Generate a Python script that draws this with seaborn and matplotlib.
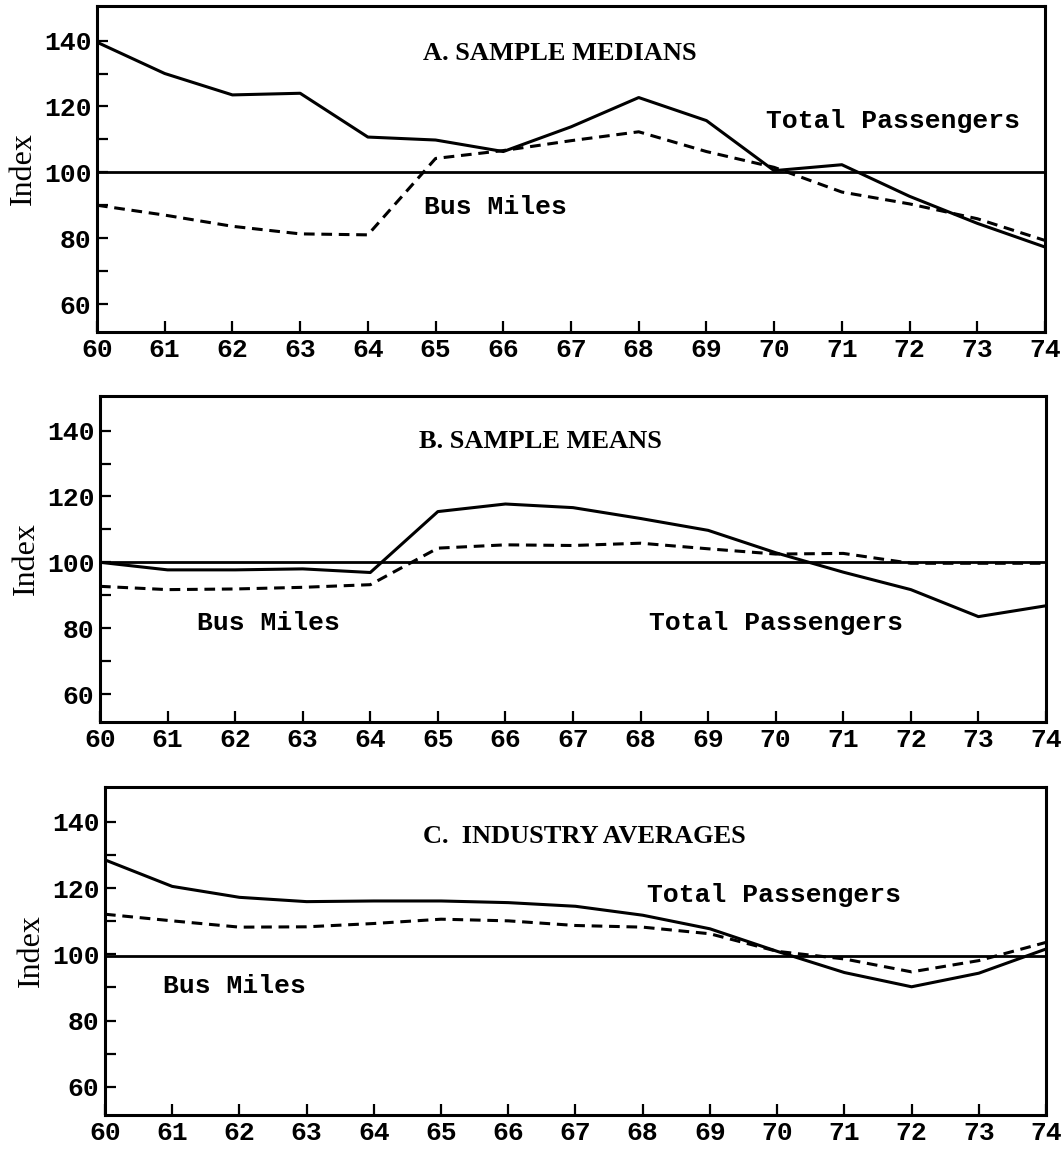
import matplotlib
matplotlib.use("Agg")
import matplotlib.pyplot as plt
import seaborn as sns

# years on the x axis (19xx)
years = list(range(60, 75))

# A. sample medians
a_passengers = [139.5, 130.0, 123.5, 124.0, 110.7, 109.8, 106.3, 113.8, 122.7, 115.7, 100.5, 102.3, 92.7, 84.5, 77.3]
a_busmiles = [90.0, 87.0, 83.6, 81.3, 81.0, 104.2, 106.6, 109.6, 112.3, 106.3, 101.5, 94.0, 90.4, 85.9, 79.3]

# B. sample means
b_passengers = [100.0, 97.7, 97.7, 98.0, 96.9, 115.4, 117.7, 116.6, 113.3, 109.7, 102.9, 97.0, 91.7, 83.5, 86.8]
b_busmiles = [92.7, 91.7, 91.9, 92.4, 93.2, 104.3, 105.3, 105.1, 105.8, 104.1, 102.5, 102.7, 99.7, 99.7, 99.7]

# C. industry averages
c_passengers = [128.5, 120.5, 117.2, 115.9, 116.1, 116.1, 115.6, 114.5, 111.8, 107.7, 100.9, 94.5, 90.2, 94.3, 101.6]
c_busmiles = [112.1, 110.1, 108.2, 108.3, 109.3, 110.6, 110.1, 108.7, 108.2, 106.2, 100.9, 98.6, 94.7, 98.1, 103.6]

base_lines = [100.0, 100.0, 99.5]
titles = ["A. SAMPLE MEDIANS", "B. SAMPLE MEANS", "C.  INDUSTRY AVERAGES"]
major_y = [60, 80, 100, 120, 140]
minor_y = [70, 90, 110, 130]

# label positions (data coords) per panel: title, passengers, bus miles
title_pos = [(66.84, 136.0), (66.52, 136.7), (67.13, 135.7)]
pass_pos = [(71.75, 115.5), (70.0, 81.7), (69.95, 118.0)]
bus_pos = [(65.88, 89.4), (62.49, 81.5), (61.92, 90.3)]

sns.set_style("white")
plt.rcParams['font.family'] = ['Liberation Mono', 'DejaVu Sans']
plt.rcParams['text.color'] = 'black'
plt.rcParams['axes.labelcolor'] = 'black'

W, H = 1063, 1149
fig = plt.figure(figsize=(W / 100, H / 100), dpi=100)

# panel boxes in pixels: left, top, right, bottom
boxes = [(97, 6, 1045, 332), (100, 396, 1046, 722), (105, 787, 1046, 1115)]

series = [(a_passengers, a_busmiles), (b_passengers, b_busmiles), (c_passengers, c_busmiles)]

for i, (l, t, r, b) in enumerate(boxes):
    ax = fig.add_axes([l / W, 1 - b / H, (r - l) / W, (b - t) / H])
    pas, bus = series[i]

    # solid = total passengers, dashed = bus miles
    sns.lineplot(x=years, y=pas, ax=ax, color='black', lw=2.2)
    sns.lineplot(x=years, y=bus, ax=ax, color='black', lw=2.2, linestyle=(0, (3.5, 2.2)))
    ax.axhline(base_lines[i], color='black', lw=2.0)

    ax.set_xlim(60, 74)
    ax.set_ylim(51.5, 150.5)
    ax.set_xticks(years)
    ax.set_xticklabels([str(y) for y in years])
    ax.set_yticks(major_y)
    ax.set_yticks(minor_y, minor=True)
    ax.tick_params(which='both', direction='in', length=8, width=1.6,
                   bottom=True, left=True, top=False, right=False,
                   labelsize=19, pad=4, colors='black')
    for lab in ax.get_xticklabels() + ax.get_yticklabels():
        lab.set_fontweight('bold')

    for sp in ax.spines.values():
        sp.set_visible(True)
        sp.set_linewidth(2.2)
        sp.set_color('black')

    ax.set_ylabel("Index", fontsize=23, labelpad=4,
                  family=['Liberation Serif', 'DejaVu Serif'])
    ax.set_xlabel("")

    ax.text(*title_pos[i], titles[i], ha='center', va='center', fontsize=19,
            fontweight='bold', family=['Liberation Serif', 'DejaVu Serif'])
    ax.text(*pass_pos[i], "Total Passengers", ha='center', va='center',
            fontsize=19, fontweight='bold')
    ax.text(*bus_pos[i], "Bus Miles", ha='center', va='center',
            fontsize=19, fontweight='bold')

fig.savefig("out.png", dpi=100, facecolor='white')
